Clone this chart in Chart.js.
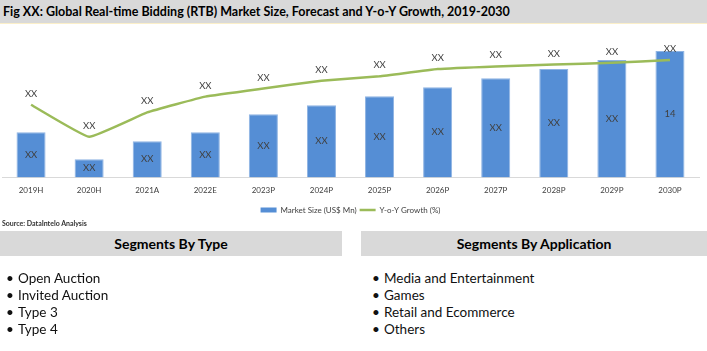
<!DOCTYPE html>
<html>
<head>
<meta charset="utf-8">
<script src="https://cdn.jsdelivr.net/npm/chart.js@4"></script>
<style>
  body { margin: 0; width: 707px; height: 351px; background: #fff; font-family: Lato, "Open Sans", sans-serif; position: relative; overflow: hidden; }
  .title { position: absolute; left: 0; top: 0; width: 707px; height: 23px; background: #d9d9d9; border-bottom: 1px solid #fbefc9; }
  .title span { position: absolute; left: 3px; top: 4px; font-weight: bold; font-size: 12.5px; color: #000; white-space: nowrap; }
  #wrap { position: absolute; left: 0; top: 26px; width: 707px; height: 198px; }
  .source { position: absolute; left: 2px; top: 219px; font-size: 7px; font-weight: bold; color: #333; }
  .seg { position: absolute; top: 231px; height: 25px; background: #d9d9d9; text-align: center; line-height: 25px; font-weight: bold; font-size: 14px; color: #000; }
  ul { position: absolute; top: 270px; margin: 0; padding: 0; list-style: none; font-size: 13.5px; color: #111; }
  li { height: 17px; line-height: 17px; position: relative; padding-left: 12px; }
  li:before { content: "\2022"; position: absolute; left: 0; }
</style>
</head>
<body>
<div class="title"><span>Fig XX: Global Real-time Bidding (RTB) Market Size, Forecast and Y-o-Y Growth, 2019-2030</span></div>
<div id="wrap"><canvas id="myChart"></canvas></div>
<div class="source">Source: DataIntelo Analysis</div>
<div class="seg" style="left:0;width:342px;">Segments By Type</div>
<div class="seg" style="left:361px;width:346px;">Segments By Application</div>
<ul id="typeList" style="left:6px;"></ul>
<ul id="appList" style="left:372px;"></ul>
<script>
const years = ["2019H", "2020H", "2021A", "2022E", "2023P", "2024P", "2025P", "2026P", "2027P", "2028P", "2029P", "2030P"];
const marketSize = [5, 2, 4, 5, 7, 8, 9, 10, 11, 12, 13, 14];
const yoyGrowth = [16.1, 9.0, 14.4, 17.9, 19.7, 21.4, 22.4, 24.0, 24.6, 25.0, 25.4, 26.0];
const barLabels = ["XX", "XX", "XX", "XX", "XX", "XX", "XX", "XX", "XX", "XX", "XX", "14"];
const lineLabels = ["XX", "XX", "XX", "XX", "XX", "XX", "XX", "XX", "XX", "XX", "XX", "XX"];
const typeSegments = ["Open Auction", "Invited Auction", "Type 3", "Type 4"];
const appSegments = ["Media and Entertainment", "Games", "Retail and Ecommerce", "Others"];

function fillList(id, items) {
  const ul = document.getElementById(id);
  items.forEach(t => {
    const li = document.createElement("li");
    li.textContent = t;
    ul.appendChild(li);
  });
}
fillList("typeList", typeSegments);
fillList("appList", appSegments);

// draws the value labels, no datalabels plugin offline
const valueLabels = {
  id: "valueLabels",
  afterDatasetsDraw(chart) {
    const ctx = chart.ctx;
    ctx.save();
    ctx.font = "9.5px Lato";
    ctx.fillStyle = "#404040";
    ctx.textAlign = "center";
    ctx.textBaseline = "middle";
    chart.getDatasetMeta(0).data.forEach((bar, i) => {
      ctx.fillText(barLabels[i], bar.x, (bar.y + bar.base) / 2);
    });
    chart.getDatasetMeta(1).data.forEach((pt, i) => {
      ctx.fillText(lineLabels[i], pt.x, pt.y - 11);
    });
    ctx.restore();
  }
};

new Chart("myChart", {
  data: {
    labels: years,
    datasets: [
      {
        type: "bar",
        label: "Market Size (US$ Mn)",
        data: marketSize,
        backgroundColor: "#558ed5",
        borderColor: "#8fb4e3",
        borderWidth: 1,
        categoryPercentage: 1,
        barPercentage: 0.5,
        yAxisID: "y",
        order: 1
      },
      {
        type: "line",
        label: "Y-o-Y Growth (%)",
        data: yoyGrowth,
        borderColor: "#9bbb59",
        backgroundColor: "#9bbb59",
        borderWidth: 2.5,
        pointRadius: 0,
        tension: 0.1,
        yAxisID: "y1",
        order: 0
      }
    ]
  },
  options: {
    responsive: true,
    maintainAspectRatio: false,
    animation: false,
    layout: { padding: { left: 2, right: 8, top: 7, bottom: 0 } },
    scales: {
      x: {
        grid: { display: false, drawTicks: false },
        border: { color: "#d9d9d9" },
        ticks: { color: "#404040", font: { family: "Lato", size: 8 }, padding: 8 }
      },
      y: { display: false, min: 0, max: 16 },
      y1: { display: false, min: 0, max: 32 }
    },
    plugins: {
      legend: {
        position: "bottom",
        labels: {
          usePointStyle: true,
          pointStyleWidth: 16,
          boxHeight: 5,
          color: "#404040",
          font: { family: "Lato", size: 8 },
          padding: 3,
          sort: (a, b) => a.datasetIndex - b.datasetIndex,
          generateLabels(chart) {
            return chart.data.datasets.map((ds, i) => ({
              text: ds.label,
              datasetIndex: i,
              fillStyle: ds.backgroundColor,
              strokeStyle: ds.type === "line" ? ds.borderColor : ds.backgroundColor,
              lineWidth: ds.type === "line" ? 2.5 : 0,
              pointStyle: ds.type === "line" ? "line" : "rect",
              fontColor: "#404040",
              hidden: false
            }));
          }
        }
      },
      tooltip: { enabled: false }
    }
  },
  plugins: [valueLabels]
});
</script>
</body>
</html>
